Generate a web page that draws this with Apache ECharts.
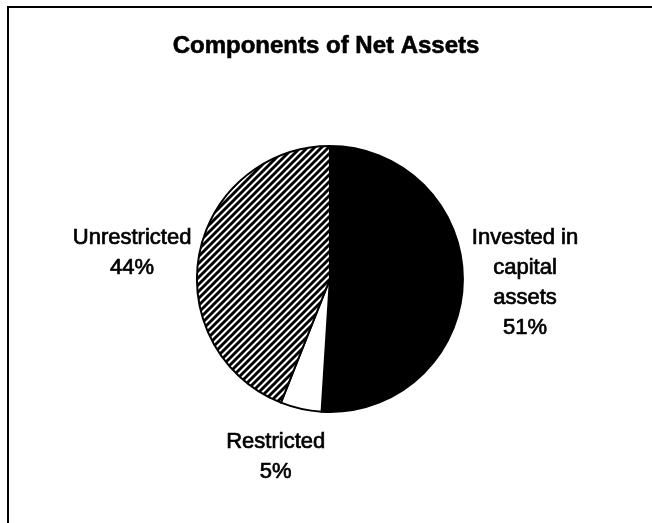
<!DOCTYPE html>
<html>
<head>
<meta charset="utf-8">
<script src="https://cdn.jsdelivr.net/npm/echarts@6/dist/echarts.min.js"></script>
<style>
  html, body { margin: 0; padding: 0; background: #fff; }
  #frame { position: absolute; left: 7px; top: 6px; width: 650px; height: 520px;
           border-top: 2px solid #000; border-left: 2px solid #000; box-sizing: border-box; }
  #chart { position: absolute; left: 0; top: 0; width: 652px; height: 523px; }
</style>
</head>
<body>
<div id="frame"></div>
<div id="chart"></div>
<script>
// ---- data ----
const chartTitle = 'Components of Net Assets';
const categories = ['Invested in capital assets', 'Restricted', 'Unrestricted'];
const labelTexts = ['Invested in\ncapital\nassets', 'Restricted', 'Unrestricted'];
const values = [51, 5, 44];

// ---- styles ----
const labelLineLen = [0, 49, 8];
const labelLineLen2 = [4, 0, 0];
const labelDist = [5, 5, 0];
const labelNudgeX = [0, 40, 0];
const labelNudgeY = [0, 0, 0];

function hatchPattern() {
  const s = 7;
  const c = document.createElement('canvas');
  c.width = s; c.height = s;
  const g = c.getContext('2d');
  g.fillStyle = '#fff';
  g.fillRect(0, 0, s, s);
  g.strokeStyle = '#000';
  g.lineWidth = 2.9;
  g.beginPath();
  for (let k = -1; k <= 1; k++) {
    g.moveTo(k * s - 1, s + 1);
    g.lineTo(k * s + s + 1, -1);
  }
  g.stroke();
  return { image: c, repeat: 'repeat' };
}

const fills = ['#000', '#fff', hatchPattern()];

const chart = echarts.init(document.getElementById('chart'), null, { renderer: 'canvas' });
const font = "'Liberation Sans', Arial, sans-serif";

const data = categories.map((name, i) => ({
  name: name,
  value: values[i],
  itemStyle: { color: fills[i] },
  label: { distanceToLabelLine: labelDist[i] },
  labelLine: { length: labelLineLen[i], length2: labelLineLen2[i] }
}));

chart.setOption({
  animation: false,
  backgroundColor: 'transparent',
  title: {
    text: chartTitle,
    left: 'center',
    top: 29,
    textStyle: { fontFamily: font, fontSize: 24, fontWeight: 'bold', color: '#000',
                 textBorderColor: '#000', textBorderWidth: 0.6 }
  },
  series: [{
    type: 'pie',
    center: ['50.6%', '53.35%'],
    radius: 133,
    startAngle: 90,
    clockwise: true,
    avoidLabelOverlap: false,
    silent: true,
    itemStyle: { borderColor: '#000', borderWidth: 2 },
    label: {
      show: true,
      position: 'outside',
      formatter: function (p) {
        const lines = labelTexts[p.dataIndex].split('\n');
        lines.push(p.value + '%');
        return lines.map(s => '{c|' + s + '}').join('\n');
      },
      rich: {
        c: { align: 'center', fontFamily: font, fontSize: 22, color: '#000', lineHeight: 30,
             textBorderColor: '#000', textBorderWidth: 0.7 }
      },
      fontFamily: font,
      fontSize: 22,
      lineHeight: 30,
      color: '#000'
    },
    labelLine: { show: false },
    labelLayout: function (p) {
      return { dx: labelNudgeX[p.dataIndex], dy: labelNudgeY[p.dataIndex] };
    },
    data: data
  }]
});
</script>
</body>
</html>
